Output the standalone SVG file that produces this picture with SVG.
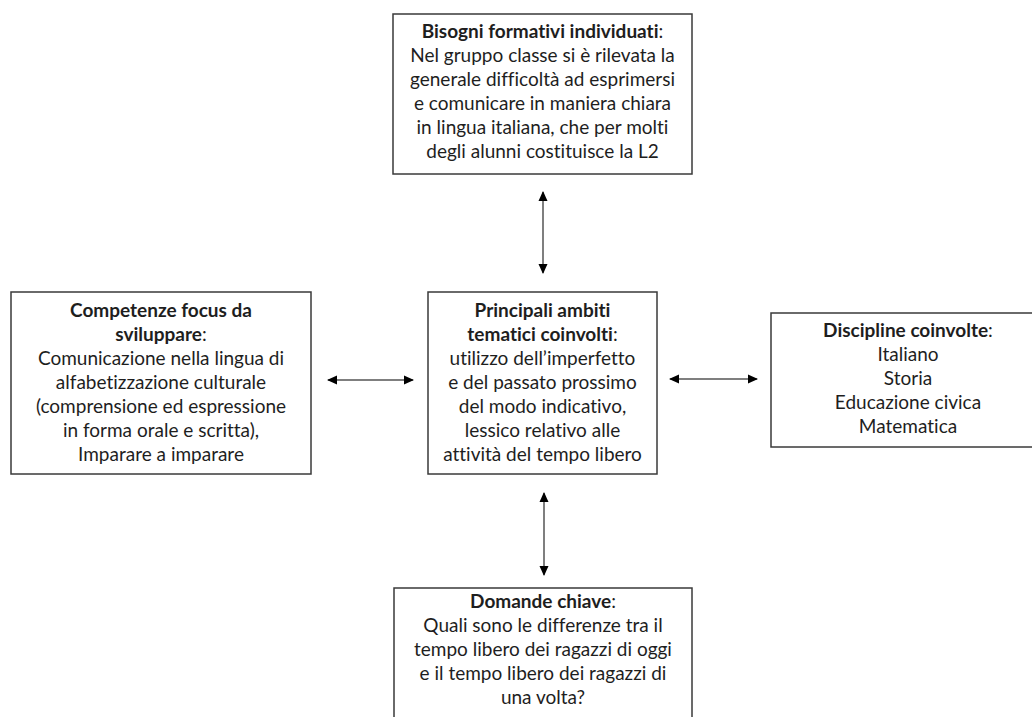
<svg xmlns="http://www.w3.org/2000/svg" width="1032" height="717" viewBox="0 0 1032 717">
<style>
.box{fill:#fff;stroke:#3a3a3a;stroke-width:1.5}
text{font-family:Lato,"Open Sans",sans-serif;font-size:19px;fill:#1e1e1e;text-anchor:middle;font-variant-ligatures:none}
.b{font-weight:bold}
.conn line{stroke:#555;stroke-width:1.5;fill:none}
</style>
<defs>
<marker id="ah" viewBox="0 0 10 10" refX="9" refY="5" markerWidth="10" markerHeight="10" markerUnits="userSpaceOnUse" orient="auto-start-reverse">
<path d="M0,0.5 L10,5 L0,9.5 Z" fill="#000"/>
</marker>
</defs>
<rect width="1032" height="717" fill="#fff"/>
<g id="top">
<rect class="box" x="393" y="14" width="299" height="160"/>
<text x="542.5" y="38"><tspan class="b">Bisogni formativi individuati</tspan>:</text>
<text x="542.5" y="62">Nel gruppo classe si è rilevata la</text>
<text x="542.5" y="86">generale difficoltà ad esprimersi</text>
<text x="542.5" y="110">e comunicare in maniera chiara</text>
<text x="542.5" y="134">in lingua italiana, che per molti</text>
<text x="542.5" y="158">degli alunni costituisce la L2</text>
</g>
<g id="left">
<rect class="box" x="11" y="292" width="300" height="182"/>
<text x="161" y="317" class="b">Competenze focus da</text>
<text x="161" y="341"><tspan class="b">sviluppare</tspan>:</text>
<text x="161" y="365">Comunicazione nella lingua di</text>
<text x="161" y="389">alfabetizzazione culturale</text>
<text x="161" y="413">(comprensione ed espressione</text>
<text x="161" y="437">in forma orale e scritta),</text>
<text x="161" y="461">Imparare a imparare</text>
</g>
<g id="center">
<rect class="box" x="428" y="292" width="229" height="182"/>
<text x="542.5" y="317" class="b">Principali ambiti</text>
<text x="542.5" y="341"><tspan class="b">tematici coinvolti</tspan>:</text>
<text x="542.5" y="365">utilizzo dell’imperfetto</text>
<text x="542.5" y="389">e del passato prossimo</text>
<text x="542.5" y="413">del modo indicativo,</text>
<text x="542.5" y="437">lessico relativo alle</text>
<text x="542.5" y="461">attività del tempo libero</text>
</g>
<g id="right">
<rect class="box" x="771" y="313" width="275" height="134"/>
<text x="908" y="337"><tspan class="b">Discipline coinvolte</tspan>:</text>
<text x="908" y="361">Italiano</text>
<text x="908" y="385">Storia</text>
<text x="908" y="409">Educazione civica</text>
<text x="908" y="433">Matematica</text>
</g>
<g id="bottom">
<rect class="box" x="394" y="588" width="298" height="140"/>
<text x="543" y="608"><tspan class="b">Domande chiave</tspan>:</text>
<text x="543" y="632">Quali sono le differenze tra il</text>
<text x="543" y="656">tempo libero dei ragazzi di oggi</text>
<text x="543" y="680">e il tempo libero dei ragazzi di</text>
<text x="543" y="704">una volta?</text>
</g>
<g id="connectors" class="conn">
<line x1="543" y1="192" x2="543" y2="273" marker-start="url(#ah)" marker-end="url(#ah)"/>
<line x1="328" y1="380" x2="413" y2="380" marker-start="url(#ah)" marker-end="url(#ah)"/>
<line x1="670" y1="379" x2="757" y2="379" marker-start="url(#ah)" marker-end="url(#ah)"/>
<line x1="544" y1="493" x2="544" y2="575" marker-start="url(#ah)" marker-end="url(#ah)"/>
</g>
</svg>
